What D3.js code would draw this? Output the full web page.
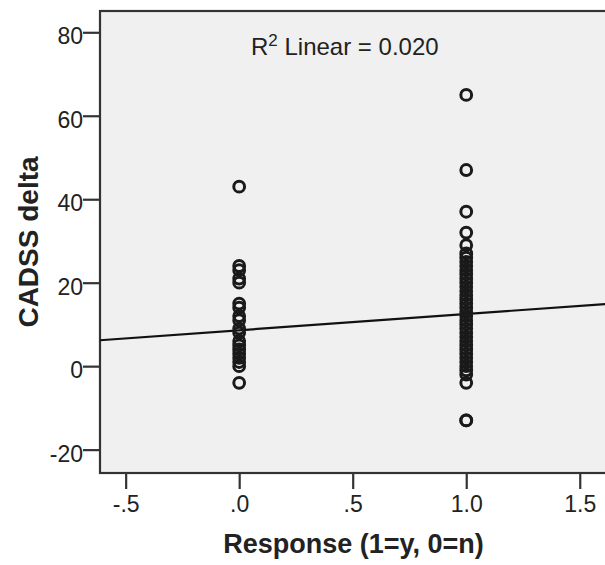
<!DOCTYPE html>
<html>
<head>
<meta charset="utf-8">
<script src="https://cdn.jsdelivr.net/npm/d3@7"></script>
<style>
    body { margin: 0; background: #fff; }
    text { font-family: "Liberation Sans", Arial, sans-serif; fill: #222; }
    .tick line { stroke: #333; stroke-width: 2.2; }
    .tick text { font-size: 23px; }
    .title { font-size: 27px; font-weight: bold; }
    .dot { fill: none; stroke: #1a1a1a; stroke-width: 3; }
</style>
</head>
<body>
<div class="container"></div>
<script>
// CADSS delta for Response = 0 (n)
var noValues = [43, 24, 23, 21, 20, 15, 14, 12, 11, 9, 8, 6, 5, 4, 3, 2, 1, 0, -4];
// CADSS delta for Response = 1 (y)
var yesValues = [65, 47, 37, 32, 29, 27, 26, 25, 24, 23, 22, 21, 20, 19, 18, 17, 16, 15, 14,
    13, 12, 11, 10, 9, 8, 7, 6, 5, 4, 3, 2, 1, 0, -1, -2, -4, -13, -13];
var xTicks = [-0.5, 0, 0.5, 1, 1.5];
var xTickLabels = ['-.5', '.0', '.5', '1.0', '1.5'];
var yTicks = [-20, 0, 20, 40, 60, 80];
// linear fit, R2 = 0.020
var fitIntercept = 8.6;
var fitSlope = 3.9;
var r2Text = '0.020';

var drawChart = function () {
    var WIDTH = 605;
    var HEIGHT = 565;
    var LEFT = 100, TOP = 11, RIGHT = 607, BOTTOM = 473;

    var points = noValues.map(function (v) { return {x: 0, y: v}; })
        .concat(yesValues.map(function (v) { return {x: 1, y: v}; }));

    var xScale = d3.scaleLinear()
        .domain([-0.613, 1.62])
        .range([LEFT, RIGHT]);

    var yScale = d3.scaleLinear()
        .domain([-25.6, 85.1])
        .range([BOTTOM, TOP]);

    var svg = d3.select('.container')
        .append('svg')
        .attr('width', WIDTH)
        .attr('height', HEIGHT);

    svg.append('defs').append('clipPath')
        .attr('id', 'plot-clip')
        .append('rect')
        .attr('x', LEFT).attr('y', TOP)
        .attr('width', RIGHT - LEFT).attr('height', BOTTOM - TOP);

    // plot background and frame
    svg.append('rect')
        .attr('x', LEFT).attr('y', TOP)
        .attr('width', RIGHT - LEFT).attr('height', BOTTOM - TOP)
        .attr('fill', '#f0f0f0')
        .attr('stroke', '#333')
        .attr('stroke-width', 2.2);

    var xAxis = d3.axisBottom(xScale)
        .tickValues(xTicks)
        .tickSize(16)
        .tickPadding(7)
        .tickFormat(function (d, i) { return xTickLabels[i]; });

    var yAxis = d3.axisLeft(yScale)
        .tickValues(yTicks)
        .tickSize(17)
        .tickPadding(0)
        .tickFormat(function (d) { return String(d); });

    svg.append('g')
        .attr('transform', 'translate(0,' + BOTTOM + ')')
        .call(xAxis)
        .call(function (g) { g.select('.domain').remove(); });

    svg.append('g')
        .attr('transform', 'translate(' + LEFT + ',0)')
        .call(yAxis)
        .call(function (g) { g.select('.domain').remove(); })
        .selectAll('text')
        .attr('dy', '0.5em');

    svg.selectAll('.tick text').attr('font-family', null).attr('font-size', null);

    // fit line
    var line = d3.line()
        .x(function (d) { return xScale(d); })
        .y(function (d) { return yScale(fitIntercept + fitSlope * d); });

    svg.append('path')
        .attr('d', line(xScale.domain()))
        .attr('clip-path', 'url(#plot-clip)')
        .attr('fill', 'none')
        .attr('stroke', '#111')
        .attr('stroke-width', 2.2);

    svg.append('g')
        .attr('clip-path', 'url(#plot-clip)')
        .selectAll('circle')
        .data(points)
        .enter()
        .append('circle')
        .classed('dot', true)
        .attr('cx', function (d) { return xScale(d.x); })
        .attr('cy', function (d) { return yScale(d.y); })
        .attr('r', 5.4);

    var note = svg.append('text')
        .attr('x', 251)
        .attr('y', 55)
        .attr('font-size', '24px');
    note.append('tspan').text('R');
    note.append('tspan')
        .attr('font-size', '17px')
        .attr('dy', '-9')
        .text('2');
    note.append('tspan')
        .attr('dy', '9')
        .text(' Linear = ' + r2Text);

    svg.append('text')
        .classed('title', true)
        .attr('x', (LEFT + RIGHT) / 2)
        .attr('y', 553)
        .attr('text-anchor', 'middle')
        .text('Response (1=y, 0=n)');

    svg.append('text')
        .classed('title', true)
        .style('font-size', '28px')
        .attr('transform', 'translate(38,' + (TOP + BOTTOM) / 2 + ') rotate(-90)')
        .attr('text-anchor', 'middle')
        .text('CADSS delta');
};

window.onload = drawChart;
</script>
</body>
</html>
